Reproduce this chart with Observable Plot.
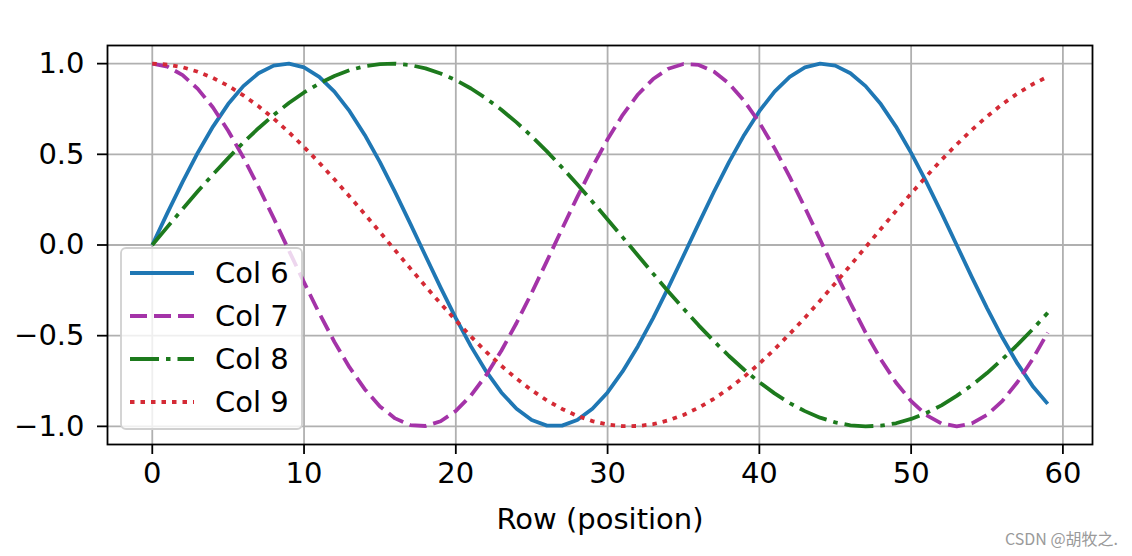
<!DOCTYPE html>
<html><head><meta charset="utf-8">
<script src="https://cdn.jsdelivr.net/npm/d3@7"></script>
<script src="https://cdn.jsdelivr.net/npm/@observablehq/plot@0.6"></script>
<style>
body{margin:0;background:#fff;}
#wrap{position:relative;width:1132px;height:556px;}
#wm{position:absolute;left:1005px;top:526px;font-size:16px;font-family:"Noto Sans CJK SC","DejaVu Sans",sans-serif;color:#9a9a9a;white-space:nowrap;}
</style></head><body><div id="wrap"><div id="wm">CSDN @胡牧之.</div></div>
<script>
const rows=[0,1,2,3,4,5,6,7,8,9,10,11,12,13,14,15,16,17,18,19,20,21,22,23,24,25,26,27,28,29,30,31,32,33,34,35,36,37,38,39,40,41,42,43,44,45,46,47,48,49,50,51,52,53,54,55,56,57,58,59];
const col6=[0,0.177,0.348,0.509,0.653,0.777,0.876,0.947,0.989,1.0,0.979,0.927,0.846,0.738,0.607,0.457,0.292,0.118,-0.059,-0.235,-0.403,-0.559,-0.697,-0.813,-0.903,-0.965,-0.996,-0.996,-0.965,-0.903,-0.813,-0.696,-0.558,-0.403,-0.235,-0.059,0.118,0.292,0.457,0.607,0.738,0.846,0.927,0.979,1.0,0.989,0.947,0.876,0.777,0.653,0.508,0.348,0.177,0.0,-0.177,-0.348,-0.509,-0.653,-0.777,-0.876];
const col7=[1.0,0.984,0.937,0.861,0.758,0.630,0.483,0.320,0.148,-0.030,-0.206,-0.376,-0.534,-0.675,-0.795,-0.890,-0.956,-0.993,-0.998,-0.972,-0.915,-0.829,-0.718,-0.583,-0.430,-0.264,-0.089,0.089,0.264,0.430,0.583,0.718,0.830,0.915,0.972,0.998,0.993,0.956,0.890,0.795,0.675,0.534,0.376,0.206,0.030,-0.148,-0.320,-0.483,-0.630,-0.758,-0.861,-0.938,-0.984,-1.0,-0.984,-0.937,-0.861,-0.757,-0.630,-0.483];
const col8=[0,0.100,0.199,0.296,0.389,0.479,0.565,0.644,0.717,0.783,0.841,0.891,0.932,0.964,0.985,0.997,1.0,0.992,0.974,0.946,0.909,0.863,0.808,0.746,0.676,0.599,0.516,0.427,0.335,0.239,0.141,0.042,-0.058,-0.158,-0.256,-0.351,-0.443,-0.530,-0.612,-0.688,-0.757,-0.818,-0.872,-0.916,-0.952,-0.978,-0.994,-1.0,-0.996,-0.983,-0.959,-0.926,-0.884,-0.832,-0.773,-0.706,-0.631,-0.551,-0.465,-0.374];
const col9=[1.0,0.995,0.980,0.955,0.921,0.878,0.825,0.765,0.697,0.622,0.540,0.454,0.362,0.268,0.170,0.071,-0.029,-0.129,-0.227,-0.323,-0.416,-0.505,-0.589,-0.666,-0.737,-0.801,-0.857,-0.904,-0.942,-0.971,-0.990,-0.999,-0.998,-0.988,-0.967,-0.937,-0.897,-0.848,-0.791,-0.726,-0.654,-0.575,-0.490,-0.401,-0.307,-0.211,-0.112,-0.012,0.088,0.187,0.284,0.378,0.469,0.554,0.635,0.709,0.776,0.835,0.886,0.928];
const seriesNames=["Col 6","Col 7","Col 8","Col 9"];
const seriesValues=[col6,col7,col8,col9];
const seriesColors=["#1f77b4","#a433a8","#1d7a1d","#d42a35"];
const seriesDash=[null,"17,7","29,7,4.5,7","4.5,6"];
const xTicks=[0,10,20,30,40,50,60];
const yTicks=[-1,-0.5,0,0.5,1];

const table=seriesNames.map((name,k)=>rows.map((r,i)=>({row:r,value:seriesValues[k][i],series:name})));

const LW=3.8;
const lineMarks=table.map((data,k)=>Plot.line(data,{x:"row",y:"value",stroke:seriesColors[k],strokeWidth:LW,strokeDasharray:seriesDash[k]||undefined,strokeLinecap:"butt",strokeLinejoin:"round"}));

const FS=29;
const chart=Plot.plot({
  width:1132,height:556,
  marginLeft:107,marginRight:40,marginTop:45,marginBottom:112,
  style:{fontFamily:"DejaVu Sans",fontSize:FS+"px",color:"#000",background:"#fff"},
  x:{domain:[-2.95,61.95]},
  y:{domain:[-1.1,1.1]},
  marks:[
    Plot.gridX(xTicks,{stroke:"#b0b0b0",strokeOpacity:1,strokeWidth:1.8}),
    Plot.gridY(yTicks,{stroke:"#b0b0b0",strokeOpacity:1,strokeWidth:1.8}),
    ...lineMarks,
    Plot.frame({stroke:"#000",strokeWidth:1.8}),
    Plot.axisX(xTicks,{tickSize:10,tickPadding:8,strokeWidth:1.8,label:"Row (position)",labelAnchor:"center",labelArrow:"none",labelOffset:84,fontSize:FS}),
    Plot.axisY(yTicks,{tickSize:10,tickPadding:13,strokeWidth:1.8,tickFormat:d3.format(".1f"),label:null,fontSize:FS})
  ]
});
document.getElementById("wrap").prepend(chart);

// legend
const svg=d3.select(chart);
const lg=svg.append("g").attr("font-family","DejaVu Sans").attr("font-size",FS+"px").attr("text-anchor","start");
lg.append("rect").attr("x",121).attr("y",248).attr("width",181).attr("height",181).attr("rx",5)
  .attr("fill","#fff").attr("fill-opacity",0.8).attr("stroke","#d0d0d0").attr("stroke-width",1.8);
const rowY=[273,316,359,402];
seriesNames.forEach((name,k)=>{
  lg.append("line").attr("x1",130).attr("x2",194).attr("y1",rowY[k]).attr("y2",rowY[k])
    .attr("stroke",seriesColors[k]).attr("stroke-width",LW).attr("stroke-dasharray",seriesDash[k]);
  lg.append("text").attr("x",215).attr("y",rowY[k]).attr("dy","0.36em").attr("fill","#000").text(name);
});
</script>
</body></html>
